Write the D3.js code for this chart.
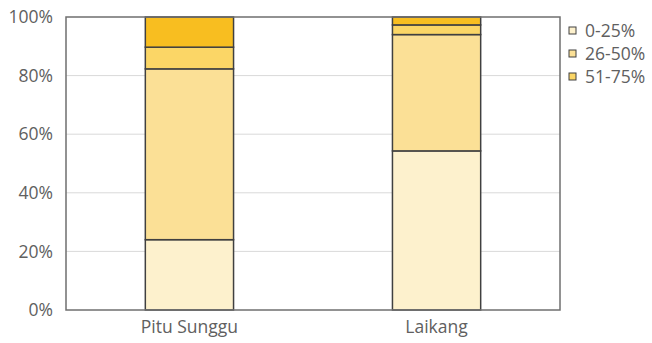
<!DOCTYPE html>
<html>
<head>
<meta charset="utf-8">
<script src="https://cdn.jsdelivr.net/npm/d3@7"></script>
<style>
  body { margin: 0; background: #fff; }
  text { font-family: "Open Sans", "Liberation Sans", sans-serif; fill: #606060; }
</style>
</head>
<body>
<svg id="rootSVG" width="652" height="343"></svg>
<script>
const categories = ["Pitu Sunggu", "Laikang"];
const seriesNames = ["0-25%", "26-50%", "51-75%", "76-100%"];
// percent share of each class, per category
const share0to25 = [24.0, 54.3];
const share26to50 = [58.3, 39.7];
const share51to75 = [7.4, 3.3];
const share76to100 = [10.3, 2.7];
const yTicks = [0, 20, 40, 60, 80, 100];
const legendShown = ["0-25%", "26-50%", "51-75%"];

const colors = ["#fdf1cd", "#fbe096", "#fbd666", "#f8be20"];

const svg = d3.select("#rootSVG");
const margin = {left: 66, right: 92, top: 17, bottom: 33};
const width = 652, height = 343;

const rows = categories.map((c, i) => ({
  cat: c,
  "0-25%": share0to25[i],
  "26-50%": share26to50[i],
  "51-75%": share51to75[i],
  "76-100%": share76to100[i]
}));

const stacked = d3.stack().keys(seriesNames)(rows);

const x = d3.scaleBand().domain(categories)
  .range([margin.left, width - margin.right]).paddingInner(0.643).paddingOuter(0.321);
const y = d3.scaleLinear().domain([0, 100]).range([height - margin.bottom, margin.top]);
const color = d3.scaleOrdinal().domain(seriesNames).range(colors);

// gridlines
svg.append("g").selectAll("line").data(yTicks.filter(t => t > 0 && t < 100)).join("line")
  .attr("x1", margin.left).attr("x2", width - margin.right)
  .attr("y1", d => y(d)).attr("y2", d => y(d))
  .attr("stroke", "#d9d9d9").attr("stroke-width", 1);

// bars
svg.append("g").selectAll("g").data(stacked).join("g")
  .attr("fill", d => color(d.key))
  .selectAll("rect").data(d => d).join("rect")
  .attr("x", d => x(d.data.cat))
  .attr("width", x.bandwidth())
  .attr("y", d => y(d[1]))
  .attr("height", d => y(d[0]) - y(d[1]))
  .attr("stroke", "#404040").attr("stroke-width", 1.5);

// plot frame
svg.append("rect")
  .attr("x", margin.left).attr("y", margin.top)
  .attr("width", width - margin.right - margin.left)
  .attr("height", height - margin.bottom - margin.top)
  .attr("fill", "none").attr("stroke", "#6f6f6f").attr("stroke-width", 1.5);

// y axis
const yAxis = svg.append("g")
  .attr("transform", `translate(${margin.left},0)`)
  .call(d3.axisLeft(y).tickValues(yTicks).tickFormat(d => d + "%").tickSize(0).tickPadding(13));
yAxis.select(".domain").remove();
yAxis.selectAll("text").attr("font-size", 17.5).style("font-family", null);

// x axis
const xAxis = svg.append("g")
  .attr("transform", `translate(0,${height - margin.bottom})`)
  .call(d3.axisBottom(x).tickSize(0).tickPadding(11));
xAxis.select(".domain").remove();
xAxis.selectAll("text").attr("font-size", 17.5).style("font-family", null);

// legend
const legend = svg.append("g").attr("transform", "translate(569,31)");
const items = legend.selectAll("g").data(legendShown).join("g")
  .attr("transform", (d, i) => `translate(0,${i * 23})`);
items.append("rect")
  .attr("x", 0).attr("y", -4).attr("width", 7).attr("height", 7)
  .attr("fill", d => color(d)).attr("stroke", "#404040").attr("stroke-width", 1);
items.append("text")
  .attr("x", 16).attr("y", 0).attr("dy", "0.35em")
  .attr("font-size", 17.5).text(d => d);
</script>
</body>
</html>
